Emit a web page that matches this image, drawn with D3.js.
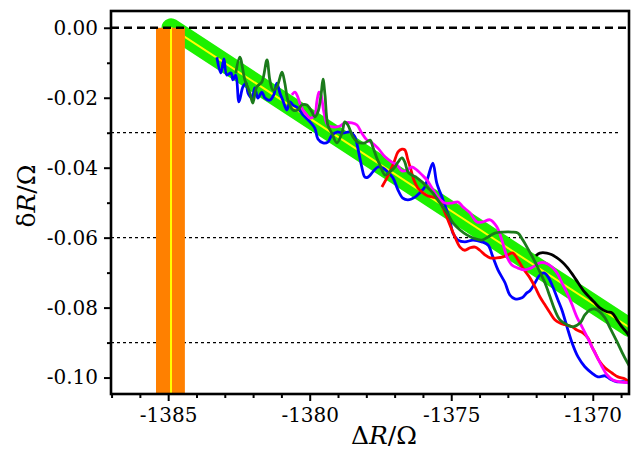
<!DOCTYPE html>
<html>
<head>
<meta charset="utf-8">
<script src="https://cdn.jsdelivr.net/npm/d3@7"></script>
<style>
  body { margin: 0; background: #fff; }
  svg text { font-family: "DejaVu Serif", serif; }
</style>
</head>
<body>
<script>
// ticks
const xMajor = [-1385, -1380, -1375, -1370];
const xMinor = [-1387, -1386, -1384, -1383, -1382, -1381, -1379, -1378, -1377, -1376, -1374, -1373, -1372, -1371, -1369];
const yMajor = [0, -0.02, -0.04, -0.06, -0.08, -0.10];
const yMinor = [-0.01, -0.03, -0.05, -0.07, -0.09];
const yGuides = [-0.03, -0.06, -0.09];

// fitted line and the start marker
const fitLine = [[-1384.9, 0], [-1368.7, -0.0857]];
const startX = -1384.9;
const startBand = [-1385.43, -1384.41];

// measured curves [ΔR, δR]
const blue = [
  [-1383.28,-0.0084],[-1383.14,-0.0129],[-1383.03,-0.0089],[-1382.93,-0.0135],[-1382.78,-0.0129],
  [-1382.71,-0.0149],[-1382.61,-0.0135],[-1382.50,-0.0212],[-1382.36,-0.0169],[-1382.25,-0.0158],
  [-1382.18,-0.0187],[-1382.04,-0.0201],[-1381.94,-0.0172],[-1381.83,-0.0201],[-1381.69,-0.0184],
  [-1381.58,-0.0201],[-1381.41,-0.0207],[-1381.27,-0.0192],[-1381.16,-0.0158],[-1381.05,-0.0187],
  [-1380.95,-0.0207],[-1380.81,-0.0235],[-1380.70,-0.0212],[-1380.59,-0.0221],[-1380.42,-0.0229],
  [-1380.24,-0.0249],[-1379.99,-0.0269],[-1379.82,-0.0287],[-1379.71,-0.0318],[-1379.53,-0.0329],
  [-1379.36,-0.0327],[-1379.22,-0.0307],[-1379.04,-0.0298],[-1378.83,-0.0301],[-1378.58,-0.0298],
  [-1378.40,-0.0312],[-1378.30,-0.0344],[-1378.16,-0.0398],[-1378.05,-0.0427],[-1377.94,-0.0427],
  [-1377.77,-0.0412],[-1377.59,-0.0398],[-1377.41,-0.0401],[-1377.24,-0.0412],[-1377.06,-0.0429],
  [-1376.88,-0.0464],[-1376.71,-0.0487],[-1376.53,-0.0492],[-1376.28,-0.0484],[-1376.11,-0.0472],
  [-1375.93,-0.0455],[-1375.82,-0.0427],[-1375.65,-0.0387],[-1375.51,-0.0444],[-1375.29,-0.0492],
  [-1375.05,-0.0549],[-1374.94,-0.0587],[-1374.76,-0.0607],[-1374.52,-0.0612],[-1374.23,-0.0607],
  [-1373.92,-0.0612],[-1373.70,-0.0621],[-1373.53,-0.0655],[-1373.35,-0.0692],[-1373.10,-0.0729],
  [-1372.93,-0.0764],[-1372.75,-0.0775],[-1372.50,-0.0772],[-1372.33,-0.0758],[-1372.22,-0.0752],
  [-1372.04,-0.0729],[-1371.87,-0.0707],[-1371.72,-0.0701],[-1371.58,-0.0712],[-1371.41,-0.0741],
  [-1371.23,-0.0778],[-1371.09,-0.0807],[-1370.91,-0.0855],[-1370.73,-0.0901],[-1370.52,-0.0941],
  [-1370.28,-0.0969],[-1370.03,-0.0987],[-1369.82,-0.0998],[-1369.57,-0.0995],[-1369.39,-0.1004],
  [-1369.14,-0.1012],[-1368.93,-0.1012],[-1368.69,-0.1015]
];
const darkGreen = [
  [-1382.61,-0.0129],[-1382.47,-0.0084],[-1382.29,-0.0149],[-1382.11,-0.0187],[-1382.01,-0.0215],
  [-1381.87,-0.0169],[-1381.69,-0.0155],[-1381.51,-0.0092],[-1381.41,-0.0149],[-1381.30,-0.0178],
  [-1381.16,-0.0169],[-1380.98,-0.0127],[-1380.88,-0.0158],[-1380.77,-0.0207],[-1380.59,-0.0235],
  [-1380.42,-0.0235],[-1380.28,-0.0221],[-1380.10,-0.0221],[-1379.92,-0.0241],[-1379.82,-0.0255],
  [-1379.71,-0.0241],[-1379.60,-0.0192],[-1379.53,-0.0147],[-1379.46,-0.0192],[-1379.36,-0.0278],
  [-1379.22,-0.0301],[-1379.04,-0.0329],[-1378.86,-0.0301],[-1378.76,-0.0269],[-1378.65,-0.0278],
  [-1378.47,-0.0312],[-1378.30,-0.0327],[-1378.05,-0.0329],[-1377.87,-0.0321],[-1377.77,-0.0341],
  [-1377.63,-0.0372],[-1377.52,-0.0392],[-1377.34,-0.0421],[-1377.17,-0.0412],[-1376.99,-0.0398],
  [-1376.88,-0.0384],[-1376.74,-0.0372],[-1376.64,-0.0384],[-1376.53,-0.0412],[-1376.39,-0.0421],
  [-1376.21,-0.0429],[-1376.03,-0.0441],[-1375.82,-0.0458],[-1375.65,-0.0472],[-1375.40,-0.0501],
  [-1375.15,-0.0529],[-1374.94,-0.0558],[-1374.69,-0.0578],[-1374.45,-0.0592],[-1374.23,-0.0601],
  [-1373.92,-0.0607],[-1373.70,-0.0598],[-1373.46,-0.0587],[-1373.17,-0.0584],[-1372.86,-0.0584],
  [-1372.64,-0.0587],[-1372.47,-0.0607],[-1372.29,-0.0632],[-1372.04,-0.0669],[-1371.87,-0.0698],
  [-1371.69,-0.0729],[-1371.51,-0.0769],[-1371.34,-0.0807],[-1371.16,-0.0835],[-1370.91,-0.0849],
  [-1370.70,-0.0855],[-1370.45,-0.0844],[-1370.28,-0.0821],[-1370.10,-0.0807],[-1369.92,-0.0804],
  [-1369.75,-0.0812],[-1369.57,-0.0829],[-1369.39,-0.0858],[-1369.14,-0.0898],[-1368.97,-0.0927],
  [-1368.79,-0.0955],[-1368.69,-0.0969]
];
const magenta = [
  [-1380.63,-0.0192],[-1380.52,-0.0184],[-1380.42,-0.0198],[-1380.35,-0.0215],[-1380.24,-0.0235],
  [-1380.10,-0.0249],[-1379.99,-0.0258],[-1379.82,-0.0249],[-1379.75,-0.0212],[-1379.67,-0.0184],
  [-1379.60,-0.0192],[-1379.50,-0.0241],[-1379.36,-0.0278],[-1379.11,-0.0284],[-1378.93,-0.0281],
  [-1378.76,-0.0272],[-1378.51,-0.0272],[-1378.33,-0.0278],[-1378.16,-0.0301],[-1377.98,-0.0321],
  [-1377.80,-0.0329],[-1377.59,-0.0344],[-1377.34,-0.0369],[-1377.10,-0.0384],[-1376.92,-0.0392],
  [-1376.74,-0.0409],[-1376.57,-0.0407],[-1376.39,-0.0398],[-1376.21,-0.0407],[-1376.03,-0.0421],
  [-1375.86,-0.0435],[-1375.68,-0.0458],[-1375.47,-0.0484],[-1375.22,-0.0501],[-1374.98,-0.0501],
  [-1374.76,-0.0498],[-1374.59,-0.0512],[-1374.34,-0.0529],[-1374.09,-0.0555],[-1373.88,-0.0555],
  [-1373.63,-0.0549],[-1373.39,-0.0569],[-1373.21,-0.0607],[-1373.03,-0.0655],[-1372.86,-0.0678],
  [-1372.64,-0.0687],[-1372.40,-0.0692],[-1372.11,-0.0684],[-1371.87,-0.0672],[-1371.69,-0.0672],
  [-1371.44,-0.0684],[-1371.26,-0.0701],[-1371.09,-0.0729],[-1370.91,-0.0758],[-1370.73,-0.0792],
  [-1370.56,-0.0827],[-1370.38,-0.0855],[-1370.20,-0.0884],[-1370.03,-0.0912],[-1369.85,-0.0941],
  [-1369.67,-0.0969],[-1369.50,-0.0992],[-1369.29,-0.1007],[-1369.04,-0.1012],[-1368.69,-0.1015]
];
const red = [
  [-1377.45,-0.0455],[-1377.31,-0.0435],[-1377.17,-0.0412],[-1377.02,-0.0384],[-1376.88,-0.0355],
  [-1376.74,-0.0347],[-1376.64,-0.0349],[-1376.53,-0.0378],[-1376.42,-0.0407],[-1376.32,-0.0435],
  [-1376.18,-0.0458],[-1376.00,-0.0472],[-1375.82,-0.0481],[-1375.65,-0.0484],[-1375.47,-0.0489],
  [-1375.29,-0.0515],[-1375.12,-0.0549],[-1374.87,-0.0598],[-1374.69,-0.0627],[-1374.52,-0.0636],
  [-1374.34,-0.0629],[-1374.16,-0.0627],[-1373.99,-0.0636],[-1373.81,-0.0649],[-1373.63,-0.0658],
  [-1373.39,-0.0658],[-1373.17,-0.0655],[-1373.00,-0.0649],[-1372.82,-0.0644],[-1372.64,-0.0664],
  [-1372.47,-0.0687],[-1372.22,-0.0715],[-1372.04,-0.0741],[-1371.87,-0.0769],[-1371.69,-0.0792],
  [-1371.51,-0.0815],[-1371.34,-0.0835],[-1371.16,-0.0844],[-1370.98,-0.0849],[-1370.73,-0.0855],
  [-1370.56,-0.0864],[-1370.35,-0.0872],[-1370.17,-0.0887],[-1370.03,-0.0912],[-1369.92,-0.0929],
  [-1369.75,-0.0955],[-1369.57,-0.0972],[-1369.32,-0.0987],[-1369.11,-0.0998],[-1368.86,-0.1004],
  [-1368.69,-0.1015]
];
const black = [
  [-1372.01,-0.0652],[-1371.87,-0.0644],[-1371.62,-0.0644],[-1371.44,-0.0649],[-1371.26,-0.0658],
  [-1371.09,-0.0669],[-1370.91,-0.0684],[-1370.70,-0.0707],[-1370.52,-0.0729],[-1370.35,-0.0749],
  [-1370.10,-0.0772],[-1369.92,-0.0787],[-1369.75,-0.0801],[-1369.50,-0.0812],[-1369.32,-0.0815],
  [-1369.14,-0.0835],[-1368.97,-0.0855],[-1368.79,-0.0872],[-1368.69,-0.0884]
];

const width = 631, height = 461;
const mLeft = 111, mRight = 629, mTop = 11, mBottom = 394;

const svg = d3.select("body").append("svg")
    .attr("width", width)
    .attr("height", height);

const x = d3.scaleLinear().domain([-1387.02, -1368.72]).range([mLeft, mRight]);
const y = d3.scaleLinear().domain([-0.1047, 0.0048]).range([mBottom, mTop]);

svg.append("clipPath").attr("id", "plot")
  .append("rect")
    .attr("x", mLeft).attr("y", mTop)
    .attr("width", mRight - mLeft).attr("height", mBottom - mTop);

const plot = svg.append("g").attr("clip-path", "url(#plot)");

// dotted guides
plot.selectAll(".guide")
  .data(yGuides)
  .join("line")
    .attr("x1", mLeft).attr("x2", x(-1369.05))
    .attr("y1", d => y(d)).attr("y2", d => y(d))
    .attr("stroke", "#000")
    .attr("stroke-width", 1.3)
    .attr("stroke-dasharray", "3,3");

// fit band
const line = d3.line().x(d => x(d[0])).y(d => y(d[1]));
plot.append("path")
    .datum(fitLine)
    .attr("d", line)
    .attr("fill", "none")
    .attr("stroke", "#1cf000")
    .attr("stroke-width", 19)
    .attr("stroke-linecap", "round");
plot.append("path")
    .datum(fitLine)
    .attr("d", line)
    .attr("fill", "none")
    .attr("stroke", "#ffff00")
    .attr("stroke-width", 2);

// start marker
plot.append("rect")
    .attr("x", x(startBand[0]))
    .attr("width", x(startBand[1]) - x(startBand[0]))
    .attr("y", y(0))
    .attr("height", mBottom - y(0))
    .attr("fill", "#ff8000");
plot.append("line")
    .attr("x1", x(startX)).attr("x2", x(startX))
    .attr("y1", y(0)).attr("y2", mBottom)
    .attr("stroke", "#ffff00")
    .attr("stroke-width", 2);

// zero line
plot.append("line")
    .attr("x1", mLeft).attr("x2", mRight)
    .attr("y1", y(0)).attr("y2", y(0))
    .attr("stroke", "#000")
    .attr("stroke-width", 2.4)
    .attr("stroke-dasharray", "8,5");

// curves
const curve = d3.line().x(d => x(d[0])).y(d => y(d[1])).curve(d3.curveCatmullRom.alpha(0.5));
const series = [
  [black, "#000000"],
  [blue, "#0000ff"],
  [red, "#ff0000"],
  [magenta, "#ff00ff"],
  [darkGreen, "#1b7a1b"]
];
series.forEach(([data, color]) => {
  plot.append("path")
      .datum(data)
      .attr("d", curve)
      .attr("fill", "none")
      .attr("stroke", color)
      .attr("stroke-width", 2.8)
      .attr("stroke-linejoin", "round");
});

// axes
const fmtY = d => d3.format(".2f")(d).replace("\u2212", "-");
const fmtX = d => String(d).replace("\u2212", "-");

svg.append("g")
    .attr("transform", `translate(${mLeft},0)`)
    .call(d3.axisLeft(y).tickValues(yMajor).tickFormat(fmtY).tickSize(7).tickPadding(6));
svg.append("g")
    .attr("transform", `translate(${mLeft},0)`)
    .call(d3.axisLeft(y).tickValues(yMinor).tickFormat("").tickSize(4));

svg.append("g")
    .attr("transform", `translate(0,${mBottom})`)
    .call(d3.axisBottom(x).tickValues(xMajor).tickFormat(fmtX).tickSize(7).tickPadding(7));
svg.append("g")
    .attr("transform", `translate(0,${mBottom})`)
    .call(d3.axisBottom(x).tickValues(xMinor).tickFormat("").tickSize(4));

svg.selectAll(".domain").remove();
svg.selectAll(".tick line").attr("stroke", "#000").attr("stroke-width", 2);
svg.selectAll(".tick text")
    .attr("fill", "#000")
    .style("font-size", "20px")
    .style("font-family", "'DejaVu Serif', serif");

// frame
svg.append("rect")
    .attr("x", mLeft).attr("y", mTop)
    .attr("width", mRight - mLeft).attr("height", mBottom - mTop)
    .attr("fill", "none")
    .attr("stroke", "#000")
    .attr("stroke-width", 2.6);

// titles
const xt = svg.append("text")
    .attr("x", 384).attr("y", 444)
    .attr("text-anchor", "middle")
    .style("font-size", "25px");
xt.append("tspan").text("\u0394");
xt.append("tspan").style("font-style", "italic").text("R");
xt.append("tspan").text("/\u03A9");

const yt = svg.append("text")
    .attr("transform", "translate(35,196) rotate(-90)")
    .attr("text-anchor", "middle")
    .style("font-size", "25px");
yt.append("tspan").text("\u03B4");
yt.append("tspan").style("font-style", "italic").text("R");
yt.append("tspan").text("/\u03A9");
</script>
</body>
</html>
